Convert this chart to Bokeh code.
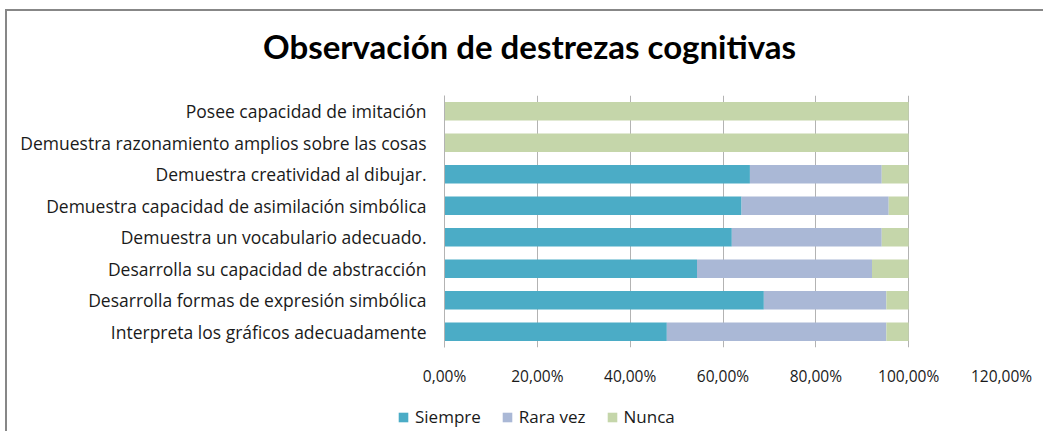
from bokeh.plotting import figure
from bokeh.layouts import column
from bokeh.models import FactorRange, FixedTicker, Legend, LegendItem, Range1d, Label
from bokeh.embed import file_html
from bokeh.resources import INLINE

title_text = "Observación de destrezas cognitivas"
categories = [
    "Interpreta los gráficos adecuadamente",
    "Desarrolla formas de expresión simbólica",
    "Desarrolla su capacidad de abstracción",
    "Demuestra un vocabulario adecuado.",
    "Demuestra capacidad de asimilación simbólica",
    "Demuestra creatividad al dibujar.",
    "Demuestra razonamiento amplios sobre las cosas",
    "Posee capacidad de imitación",
]
siempre = [47.9, 68.8, 54.4, 61.9, 64.0, 65.8, 0.0, 0.0]
rara_vez = [47.3, 26.4, 37.7, 32.3, 31.7, 28.4, 0.0, 0.0]
nunca = [4.8, 4.8, 7.9, 5.8, 4.3, 5.8, 100.0, 100.0]
series_names = ["Siempre", "Rara vez", "Nunca"]
series_colors = ["#4BACC6", "#AAB8D6", "#C5D6AA"]
x_ticks = [0, 20, 40, 60, 80, 100, 120]
x_tick_labels = ["0,00%", "20,00%", "40,00%", "60,00%", "80,00%", "100,00%", "120,00%"]

FONT = "Open Sans"
TXT = "#1a1a1a"
W = 1036

def strip(height):
    f = figure(width=W, height=height, x_range=Range1d(0, W), y_range=Range1d(0, height),
               output_backend="svg", toolbar_location=None,
               x_axis_location=None, y_axis_location=None, min_border=0)
    f.title = None
    f.frame_align = False
    f.outline_line_color = None
    f.grid.grid_line_color = None
    f.background_fill_color = "white"
    f.border_fill_color = "white"
    return f

# title strip
tf = strip(60)
tf.add_layout(Label(x=522, y=26, text=title_text, text_align="center",
                    text_baseline="middle", text_font="Lato", text_font_size="33px",
                    text_font_style="bold", text_color="#000000"))

data = {"cat": categories, "Siempre": siempre, "Rara vez": rara_vez, "Nunca": nunca}

p = figure(
    width=W, height=320,
    y_range=FactorRange(*categories, range_padding=0),
    x_range=Range1d(0, 120),
    output_backend="svg", toolbar_location=None,
    min_border_left=437, min_border_right=42,
    min_border_top=24, min_border_bottom=44,
)
p.hbar_stack(series_names, y="cat", height=0.58, color=series_colors,
             line_color=None, source=data)

p.outline_line_color = None
p.background_fill_color = "white"
p.border_fill_color = "white"

p.ygrid.grid_line_color = None
p.xgrid.grid_line_color = "#b3b3b3"
p.xgrid.grid_line_width = 1

p.xaxis.ticker = FixedTicker(ticks=x_ticks)
p.xaxis.major_label_overrides = {t: l for t, l in zip(x_ticks, x_tick_labels)}
p.xaxis.axis_line_color = None
p.xaxis.major_tick_line_color = None
p.xaxis.minor_tick_line_color = None
p.xaxis.major_label_standoff = 11
p.xaxis.major_label_text_font = FONT
p.xaxis.major_label_text_font_size = "15.5px"
p.xaxis.major_label_text_color = TXT

p.yaxis.axis_line_color = "#b3b3b3"
p.yaxis.major_tick_line_color = None
p.yaxis.minor_tick_line_color = None
p.yaxis.major_label_standoff = 12
p.yaxis.major_label_text_font = FONT
p.yaxis.major_label_text_font_size = "17.5px"
p.yaxis.major_label_text_color = TXT

# legend strip below the chart
lg = strip(40)
legend_renderers = []
for name, col in zip(series_names, series_colors):
    r = lg.quad(left=[0], right=[0], bottom=[0], top=[0], fill_color=col,
                line_color=None, visible=False)
    legend_renderers.append(r)

legend = Legend(
    items=[LegendItem(label=n, renderers=[r]) for n, r in zip(series_names, legend_renderers)],
    orientation="horizontal",
    location=(390, 3),
    glyph_width=12, glyph_height=12,
    label_standoff=6, spacing=20,
    padding=0, margin=0,
    border_line_color=None, background_fill_alpha=0,
    label_text_font=FONT, label_text_font_size="17px", label_text_color=TXT,
)
lg.add_layout(legend, "center")

layout = column(tf, p, lg, spacing=0)
layout.styles = {"margin-left": "5px", "margin-top": "9px",
                 "border-top": "2px solid #878787", "border-left": "2px solid #878787"}

open("out.html", "w").write(file_html(layout, INLINE))
